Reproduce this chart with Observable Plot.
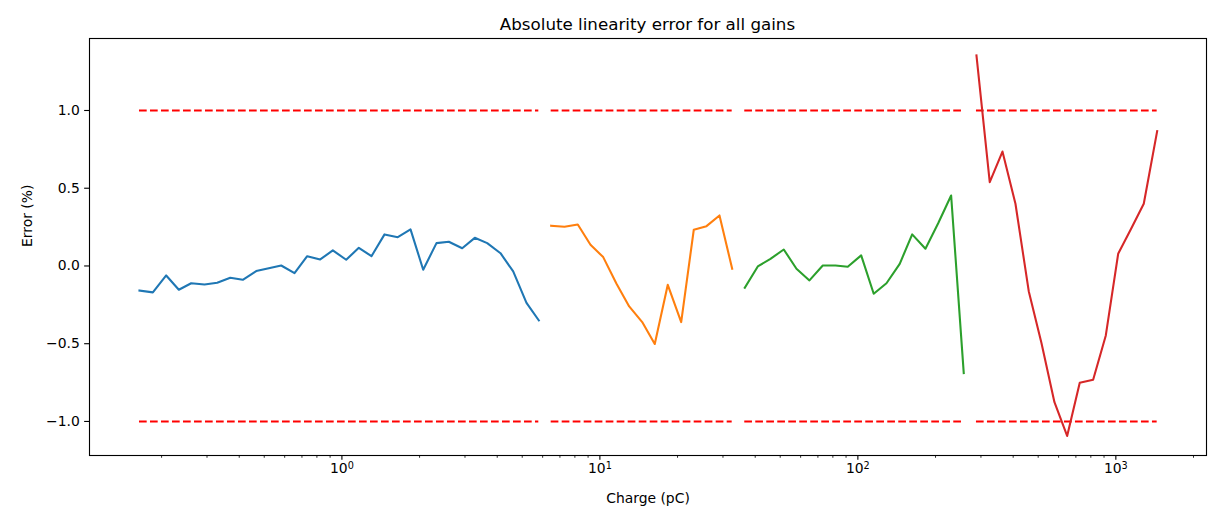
<!DOCTYPE html>
<html>
<head>
<meta charset="utf-8">
<script src="https://cdn.jsdelivr.net/npm/d3@7"></script>
<script src="https://cdn.jsdelivr.net/npm/@observablehq/plot@0.6"></script>
<style>
  html, body { margin: 0; padding: 0; background: #fff; }
  #title {
    width: 1217px; height: 30px; box-sizing: border-box;
    padding-left: 89px; padding-right: 11px;
    font-family: "DejaVu Sans", sans-serif; font-size: 16.7px;
    line-height: 48px; text-align: center; color: #000; overflow: visible;
    white-space: nowrap;
  }
</style>
</head>
<body>
<div id="title">Absolute linearity error for all gains</div>
<div id="chart"></div>
<script>
// ---- data ----
const blueX = [0.1642, 0.1850, 0.2084, 0.2333, 0.2605, 0.2934, 0.3286, 0.3692, 0.4128, 0.4655,
  0.5206, 0.5817, 0.6551, 0.7336, 0.8240, 0.9221, 1.039, 1.163, 1.302, 1.463,
  1.647, 1.845, 2.066, 2.326, 2.597, 2.926, 3.274, 3.658, 4.119, 4.613, 5.194, 5.798];
const blueY = [-0.158, -0.170, -0.061, -0.153, -0.111, -0.119, -0.108, -0.076, -0.089, -0.033,
  -0.014, 0.003, -0.046, 0.063, 0.042, 0.100, 0.040, 0.117, 0.063, 0.203,
  0.185, 0.235, -0.024, 0.147, 0.156, 0.114, 0.181, 0.147, 0.082, -0.035, -0.237, -0.350];

const orangeX = [6.475, 7.292, 8.210, 9.195, 10.30, 11.60, 12.99, 14.59, 16.32, 18.33,
  20.66, 23.12, 25.90, 29.08, 32.57];
const orangeY = [0.259, 0.252, 0.267, 0.136, 0.057, -0.114, -0.260, -0.361, -0.502, -0.121,
  -0.361, 0.233, 0.256, 0.325, -0.018];

const greenX = [36.44, 40.93, 45.84, 51.62, 57.81, 64.92, 73.11, 81.88, 91.38, 103.0,
  115.2, 129.1, 145.3, 162.4, 182.8, 204.8, 229.9, 257.3];
const greenY = [-0.140, -0.003, 0.046, 0.106, -0.018, -0.093, 0.003, 0.003, -0.005, 0.068,
  -0.179, -0.111, 0.014, 0.203, 0.111, 0.275, 0.453, -0.689];

const redX = [288.2, 324.5, 363.5, 408.2, 459.6, 514.8, 578.1, 647.5, 724.6, 816.6,
  914.3, 1021, 1146, 1283, 1446];
const redY = [1.354, 0.539, 0.736, 0.400, -0.162, -0.496, -0.876, -1.093, -0.751, -0.732,
  -0.447, 0.078, 0.239, 0.400, 0.867];

const limitValues = [1, -1];

const xTicks = [1, 10, 100, 1000];
const xTickBase = ["10", "10", "10", "10"];
const xTickExp = ["0", "1", "2", "3"];
const xMinorTicks = [0.2, 0.3, 0.4, 0.5, 0.6, 0.7, 0.8, 0.9,
  2, 3, 4, 5, 6, 7, 8, 9,
  20, 30, 40, 50, 60, 70, 80, 90,
  200, 300, 400, 500, 600, 700, 800, 900, 2000];
const yTicks = [-1, -0.5, 0, 0.5, 1];
const yTickLabels = ["\u22121.0", "\u22120.5", "0.0", "0.5", "1.0"];

const xLabel = "Charge (pC)";
const yLabel = "Error (%)";

// ---- build tables ----
const series = [
  {X: blueX, Y: blueY, color: "#1f77b4"},
  {X: orangeX, Y: orangeY, color: "#ff7f0e"},
  {X: greenX, Y: greenY, color: "#2ca02c"},
  {X: redX, Y: redY, color: "#d62728"}
];
const tables = series.map(s => s.X.map((x, i) => ({x, y: s.Y[i]})));
const limits = [];
for (const s of series) {
  for (const v of limitValues) limits.push({x1: s.X[0], x2: s.X[s.X.length - 1], y: v});
}
const xIdx = new Map(xTicks.map((t, i) => [t, i]));
const yLab = new Map(yTicks.map((t, i) => [t, yTickLabels[i]]));

const lw = 2.08;
const chart = Plot.plot({
  width: 1217,
  height: 479,
  marginLeft: 89,
  marginRight: 11,
  marginTop: 8,
  marginBottom: 54,
  style: {fontFamily: "DejaVu Sans, sans-serif", fontSize: "13.9px", color: "#000", background: "#fff"},
  x: {type: "log", domain: [0.1051, 2246], label: null},
  y: {domain: [-1.219, 1.463], label: null},
  marks: [
    Plot.ruleY(limits, {y: "y", x1: "x1", x2: "x2", stroke: "#ff0000", strokeWidth: lw, strokeDasharray: "7.7,3.3", strokeLinecap: "butt"}),
    ...tables.map((t, i) => Plot.line(t, {x: "x", y: "y", stroke: series[i].color, strokeWidth: lw, strokeLinejoin: "round", strokeLinecap: "square"})),
    Plot.frame({stroke: "#000", strokeWidth: 1.11}),
    Plot.axisX(xMinorTicks, {tickSize: 2.78, strokeWidth: 0.83, tickFormat: () => "", label: null}),
    Plot.axisX(xTicks, {tickSize: 4.86, strokeWidth: 1.11, tickPadding: 3.0, tickFormat: d => xTickBase[xIdx.get(d)] + "^" + xTickExp[xIdx.get(d)], label: null}),
    Plot.axisY(yTicks, {tickSize: 4.86, strokeWidth: 1.11, tickPadding: 4.86, tickFormat: d => yLab.get(d), label: null}),
    Plot.text([xLabel], {frameAnchor: "bottom", dy: 47, text: d => d, fontSize: 13.9}),
    Plot.text([yLabel], {frameAnchor: "left", dx: -62, rotate: -90, text: d => d, fontSize: 13.9})
  ]
});
document.getElementById("chart").appendChild(chart);

// render "10^n" tick labels with a real superscript, as mathtext does
d3.select(chart).selectAll("text").each(function() {
  const t = this.textContent;
  const m = /^(\d+)\^(\d+)$/.exec(t);
  if (!m) return;
  const sel = d3.select(this);
  sel.text(null);
  sel.append("tspan").text(m[1]);
  sel.append("tspan").attr("dy", "-0.45em").attr("font-size", "9.7px").text(m[2]);
});
</script>
</body>
</html>
